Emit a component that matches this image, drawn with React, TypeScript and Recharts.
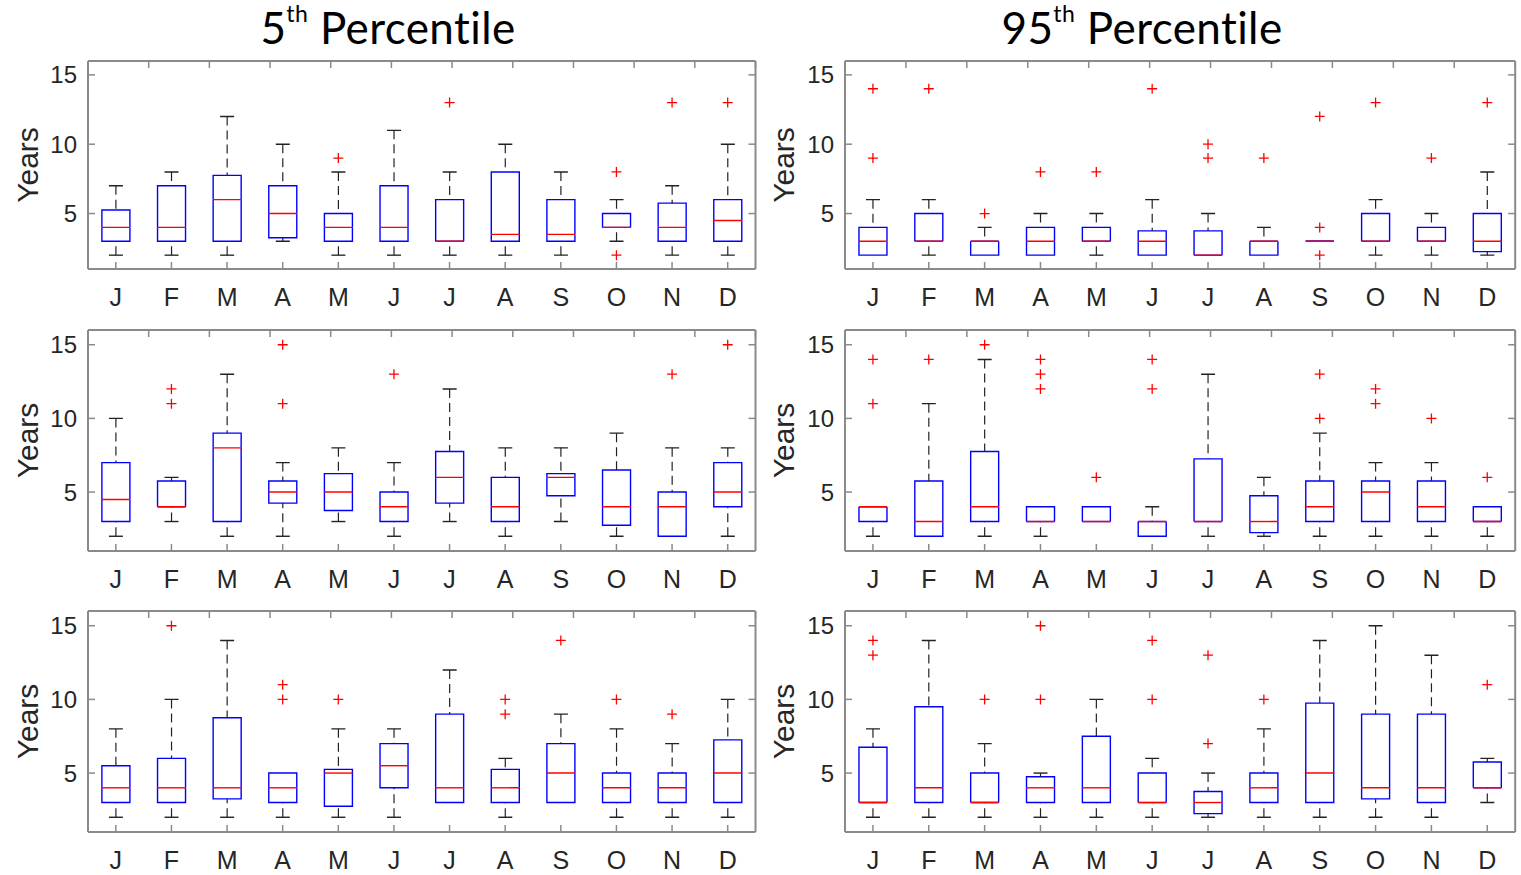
import React from 'react';
import { ComposedChart, Bar, Scatter, XAxis, YAxis } from 'recharts';

// Month initials along every x axis
const MONTHS = ['J', 'F', 'M', 'A', 'M', 'J', 'J', 'A', 'S', 'O', 'N', 'D'];
const MONTH_POSITIONS = MONTHS.map((_, i) => i + 1);
const YEAR_TICKS = [5, 10, 15];
const YEAR_DOMAIN: [number, number] = [1, 16];

// Box statistics per month: [lower whisker, Q1, median, Q3, upper whisker]
type BoxStat = [number, number, number, number, number];

// 5th percentile, panel 1
const p5Row1Stats: BoxStat[] = [
  [2, 3, 4, 5.25, 7], [2, 3, 4, 7, 8], [2, 3, 6, 7.75, 12], [3, 3.25, 5, 7, 10],
  [2, 3, 4, 5, 8], [2, 3, 4, 7, 11], [2, 3, 3, 6, 8], [2, 3, 3.5, 8, 10],
  [2, 3, 3.5, 6, 8], [3, 4, 4, 5, 6], [2, 3, 4, 5.75, 7], [2, 3, 4.5, 6, 10],
];
const p5Row1Outliers: number[][] = [[], [], [], [], [9], [], [13], [], [], [8, 2], [13], [13]];

// 5th percentile, panel 2
const p5Row2Stats: BoxStat[] = [
  [2, 3, 4.5, 7, 10], [3, 4, 4, 5.75, 6], [2, 3, 8, 9, 13], [2, 4.25, 5, 5.75, 7],
  [3, 3.75, 5, 6.25, 8], [2, 3, 4, 5, 7], [3, 4.25, 6, 7.75, 12], [2, 3, 4, 6, 8],
  [3, 4.75, 6, 6.25, 8], [2, 2.75, 4, 6.5, 9], [2, 2, 4, 5, 8], [2, 4, 5, 7, 8],
];
const p5Row2Outliers: number[][] = [[], [12, 11], [], [15, 11], [], [13], [], [], [], [], [13], [15]];

// 5th percentile, panel 3
const p5Row3Stats: BoxStat[] = [
  [2, 3, 4, 5.5, 8], [2, 3, 4, 6, 10], [2, 3.25, 4, 8.75, 14], [2, 3, 4, 5, 5],
  [2, 2.75, 5, 5.25, 8], [2, 4, 5.5, 7, 8], [3, 3, 4, 9, 12], [2, 3, 4, 5.25, 6],
  [3, 3, 5, 7, 9], [2, 3, 4, 5, 8], [2, 3, 4, 5, 7], [2, 3, 5, 7.25, 10],
];
const p5Row3Outliers: number[][] = [[], [15], [], [11, 10], [10], [], [], [10, 9], [14], [10], [9], []];

// 95th percentile, panel 1
const p95Row1Stats: BoxStat[] = [
  [2, 2, 3, 4, 6], [2, 3, 3, 5, 6], [2, 2, 3, 3, 4], [2, 2, 3, 4, 5],
  [2, 3, 3, 4, 5], [2, 2, 3, 3.75, 6], [2, 2, 2, 3.75, 5], [2, 2, 3, 3, 4],
  [3, 3, 3, 3, 3], [2, 3, 3, 5, 6], [2, 3, 3, 4, 5], [2, 2.25, 3, 5, 8],
];
const p95Row1Outliers: number[][] = [[14, 9], [14], [5], [8], [8], [14], [10, 9], [9], [12, 4, 2], [13], [9], [13]];

// 95th percentile, panel 2
const p95Row2Stats: BoxStat[] = [
  [2, 3, 4, 4, 4], [2, 2, 3, 5.75, 11], [2, 3, 4, 7.75, 14], [2, 3, 3, 4, 4],
  [3, 3, 3, 4, 4], [2, 2, 3, 3, 4], [2, 3, 3, 7.25, 13], [2, 2.25, 3, 4.75, 6],
  [2, 3, 4, 5.75, 9], [2, 3, 5, 5.75, 7], [2, 3, 4, 5.75, 7], [2, 3, 3, 4, 4],
];
const p95Row2Outliers: number[][] = [[14, 11], [14], [15], [14, 13, 12], [6], [14, 12], [], [], [13, 10], [12, 11], [10], [6]];

// 95th percentile, panel 3
const p95Row3Stats: BoxStat[] = [
  [2, 3, 3, 6.75, 8], [2, 3, 4, 9.5, 14], [2, 3, 3, 5, 7], [2, 3, 4, 4.75, 5],
  [2, 3, 4, 7.5, 10], [2, 3, 3, 5, 6], [2, 2.25, 3, 3.75, 5], [2, 3, 4, 5, 8],
  [2, 3, 5, 9.75, 14], [2, 3.25, 4, 9, 15], [2, 3, 4, 9, 13], [3, 4, 4, 5.75, 6],
];
const p95Row3Outliers: number[][] = [[14, 13], [], [10], [15, 10], [], [14, 10], [13, 7], [10], [], [], [], [11]];

// Styling
const FRAME = '#8a8a8a';
const TEXT = '#262626';
const BOX_BLUE = '#0000ff';
const MEDIAN_RED = '#ff0000';
const WHISKER = '#222222';
const TICK_FONT = "'Liberation Sans', Arial, sans-serif";
const TITLE_FONT = "Lato, 'Open Sans', sans-serif";
const Y_AXIS_WIDTH = 88;
const X_AXIS_HEIGHT = 45;
const MARGIN = { top: 3, right: 3, bottom: 0, left: 0 };

type ShapeProps = { x?: number; y?: number; width?: number; height?: number };

const norm = (p: ShapeProps) => {
  const x = Number(p.x) || 0;
  const w = Number(p.width) || 0;
  const y0 = Number(p.y) || 0;
  const h0 = Number(p.height) || 0;
  const top = Math.min(y0, y0 + h0);
  const h = Math.abs(h0);
  return { x, w, top, bottom: top + h, h, cx: x + w / 2 };
};

const EmptyShape = () => <g />;

// Frame axes keep their inward tick marks but carry no labels
const NoLabelTick = () => <g />;

const LowerWhiskerShape = (p: ShapeProps) => {
  const { w, top, bottom, h, cx } = norm(p);
  if (h < 0.01) return <g />;
  return (
    <g>
      <line x1={cx} x2={cx} y1={bottom} y2={top} stroke={WHISKER} strokeWidth={1.2} strokeDasharray="9 5" />
      <line x1={cx - w / 4} x2={cx + w / 4} y1={bottom} y2={bottom} stroke={WHISKER} strokeWidth={1.4} />
    </g>
  );
};

const UpperWhiskerShape = (p: ShapeProps) => {
  const { w, top, bottom, h, cx } = norm(p);
  if (h < 0.01) return <g />;
  return (
    <g>
      <line x1={cx} x2={cx} y1={top} y2={bottom} stroke={WHISKER} strokeWidth={1.2} strokeDasharray="9 5" />
      <line x1={cx - w / 4} x2={cx + w / 4} y1={top} y2={top} stroke={WHISKER} strokeWidth={1.4} />
    </g>
  );
};

const LowerBoxShape = (p: ShapeProps) => {
  const { x, w, top, bottom } = norm(p);
  return (
    <path
      d={`M${x},${top} L${x},${bottom} L${x + w},${bottom} L${x + w},${top}`}
      fill="none"
      stroke={BOX_BLUE}
      strokeWidth={1.4}
    />
  );
};

const UpperBoxShape = (p: ShapeProps) => {
  const { x, w, top, bottom } = norm(p);
  return (
    <g>
      <path
        d={`M${x},${bottom} L${x},${top} L${x + w},${top} L${x + w},${bottom}`}
        fill="none"
        stroke={BOX_BLUE}
        strokeWidth={1.4}
      />
      <line x1={x} x2={x + w} y1={bottom} y2={bottom} stroke={MEDIAN_RED} strokeWidth={1.4} />
    </g>
  );
};

const PlusShape = (p: { cx?: number; cy?: number }) => {
  const cx = Number(p.cx) || 0;
  const cy = Number(p.cy) || 0;
  const r = 5;
  return (
    <g>
      <line x1={cx - r} x2={cx + r} y1={cy} y2={cy} stroke={MEDIAN_RED} strokeWidth={1.3} />
      <line x1={cx} x2={cx} y1={cy - r} y2={cy + r} stroke={MEDIAN_RED} strokeWidth={1.3} />
    </g>
  );
};

const YearsLabel = (props: any) => {
  const vb = props.viewBox || { x: 0, y: 0, height: 0 };
  const x = vb.x + 27;
  const y = vb.y + vb.height / 2;
  return (
    <text
      x={x}
      y={y}
      transform={`rotate(-90 ${x} ${y})`}
      textAnchor="middle"
      dominantBaseline="central"
      fontSize={30}
      fontFamily={TICK_FONT}
      fill={TEXT}
    >
      Years
    </text>
  );
};

type PanelProps = {
  stats: BoxStat[];
  outliers: number[][];
  plotLeft: number;
  plotTop: number;
  plotWidth: number;
  plotHeight: number;
};

function BoxPanel({ stats, outliers, plotLeft, plotTop, plotWidth, plotHeight }: PanelProps) {
  const rows = stats.map(([lo, q1, med, q3, hi], i) => ({
    pos: i + 1,
    base: lo,
    lowerWhisker: q1 - lo,
    lowerBox: med - q1,
    upperBox: q3 - med,
    upperWhisker: hi - q3,
  }));
  const points = outliers.flatMap((vals, i) => vals.map((v) => ({ pos: i + 1, value: v })));
  // one extra pixel on top and right holds the frame axes
  const width = MARGIN.left + Y_AXIS_WIDTH + plotWidth + 1 + MARGIN.right;
  const height = MARGIN.top + 1 + plotHeight + X_AXIS_HEIGHT;

  return (
    <div style={{ position: 'absolute', left: plotLeft - Y_AXIS_WIDTH - MARGIN.left, top: plotTop - MARGIN.top - 1 }}>
      <ComposedChart width={width} height={height} data={rows} margin={MARGIN} barCategoryGap="25%">
        <XAxis
          xAxisId="main"
          dataKey="pos"
          type="number"
          domain={[0.5, 12.5]}
          allowDataOverflow
          ticks={MONTH_POSITIONS}
          interval={0}
          tickFormatter={(v: number) => MONTHS[v - 1] ?? ''}
          height={X_AXIS_HEIGHT}
          tickSize={-7}
          tickMargin={26}
          axisLine={{ stroke: FRAME, strokeWidth: 2 }}
          tickLine={{ stroke: FRAME, strokeWidth: 1.5 }}
          tick={{ fill: TEXT, fontSize: 25, fontFamily: TICK_FONT }}
        />
        <XAxis
          xAxisId="top"
          orientation="top"
          type="number"
          domain={[0.5, 12.5]}
          allowDataOverflow
          ticks={MONTH_POSITIONS}
          interval={0}
          height={1}
          tickSize={-7}
          tick={NoLabelTick}
          axisLine={{ stroke: FRAME, strokeWidth: 2 }}
          tickLine={{ stroke: FRAME, strokeWidth: 1.5 }}
        />
        <YAxis
          yAxisId="main"
          type="number"
          domain={YEAR_DOMAIN}
          allowDataOverflow
          ticks={YEAR_TICKS}
          interval={0}
          width={Y_AXIS_WIDTH}
          tickSize={-7}
          tickMargin={18}
          axisLine={{ stroke: FRAME, strokeWidth: 2 }}
          tickLine={{ stroke: FRAME, strokeWidth: 1.5 }}
          tick={{ fill: TEXT, fontSize: 24, fontFamily: TICK_FONT }}
          label={(props: any) => <YearsLabel {...props} />}
        />
        <YAxis
          yAxisId="right"
          orientation="right"
          type="number"
          domain={YEAR_DOMAIN}
          allowDataOverflow
          ticks={YEAR_TICKS}
          interval={0}
          width={1}
          tickSize={-7}
          tick={NoLabelTick}
          axisLine={{ stroke: FRAME, strokeWidth: 2 }}
          tickLine={{ stroke: FRAME, strokeWidth: 1.5 }}
        />
        <Bar xAxisId="main" yAxisId="main" dataKey="base" stackId="box" shape={EmptyShape} isAnimationActive={false} />
        <Bar xAxisId="main" yAxisId="main" dataKey="lowerWhisker" stackId="box" shape={LowerWhiskerShape} isAnimationActive={false} />
        <Bar xAxisId="main" yAxisId="main" dataKey="lowerBox" stackId="box" shape={LowerBoxShape} isAnimationActive={false} />
        <Bar xAxisId="main" yAxisId="main" dataKey="upperBox" stackId="box" shape={UpperBoxShape} isAnimationActive={false} />
        <Bar xAxisId="main" yAxisId="main" dataKey="upperWhisker" stackId="box" shape={UpperWhiskerShape} isAnimationActive={false} />
        <Scatter xAxisId="main" yAxisId="main" data={points} dataKey="value" shape={PlusShape} isAnimationActive={false} />
      </ComposedChart>
    </div>
  );
}

const LEFT_COL = { plotLeft: 88, plotWidth: 667.5 };
const RIGHT_COL = { plotLeft: 845.4, plotWidth: 670.2 };
const ROW_1 = { plotTop: 61, plotHeight: 208 };
const ROW_2 = { plotTop: 330, plotHeight: 221 };
const ROW_3 = { plotTop: 611, plotHeight: 221 };

export default function App() {
  return (
    <div style={{ position: 'absolute', left: 0, top: 0, width: 1521, height: 875, background: '#ffffff', overflow: 'hidden' }}>
      <svg width={1521} height={60} style={{ position: 'absolute', left: 0, top: 0 }}>
        <text x={388} y={44} textAnchor="middle" fontSize={44} letterSpacing={0.4} fontFamily={TITLE_FONT} fill="#000">
          5<tspan dy={-22} fontSize={23}>th</tspan>
          <tspan dy={22}> Percentile</tspan>
        </text>
        <text x={1142} y={44} textAnchor="middle" fontSize={44} letterSpacing={0.4} fontFamily={TITLE_FONT} fill="#000">
          95<tspan dy={-22} fontSize={23}>th</tspan>
          <tspan dy={22}> Percentile</tspan>
        </text>
      </svg>
      <BoxPanel stats={p5Row1Stats} outliers={p5Row1Outliers} {...LEFT_COL} {...ROW_1} />
      <BoxPanel stats={p5Row2Stats} outliers={p5Row2Outliers} {...LEFT_COL} {...ROW_2} />
      <BoxPanel stats={p5Row3Stats} outliers={p5Row3Outliers} {...LEFT_COL} {...ROW_3} />
      <BoxPanel stats={p95Row1Stats} outliers={p95Row1Outliers} {...RIGHT_COL} {...ROW_1} />
      <BoxPanel stats={p95Row2Stats} outliers={p95Row2Outliers} {...RIGHT_COL} {...ROW_2} />
      <BoxPanel stats={p95Row3Stats} outliers={p95Row3Outliers} {...RIGHT_COL} {...ROW_3} />
    </div>
  );
}
